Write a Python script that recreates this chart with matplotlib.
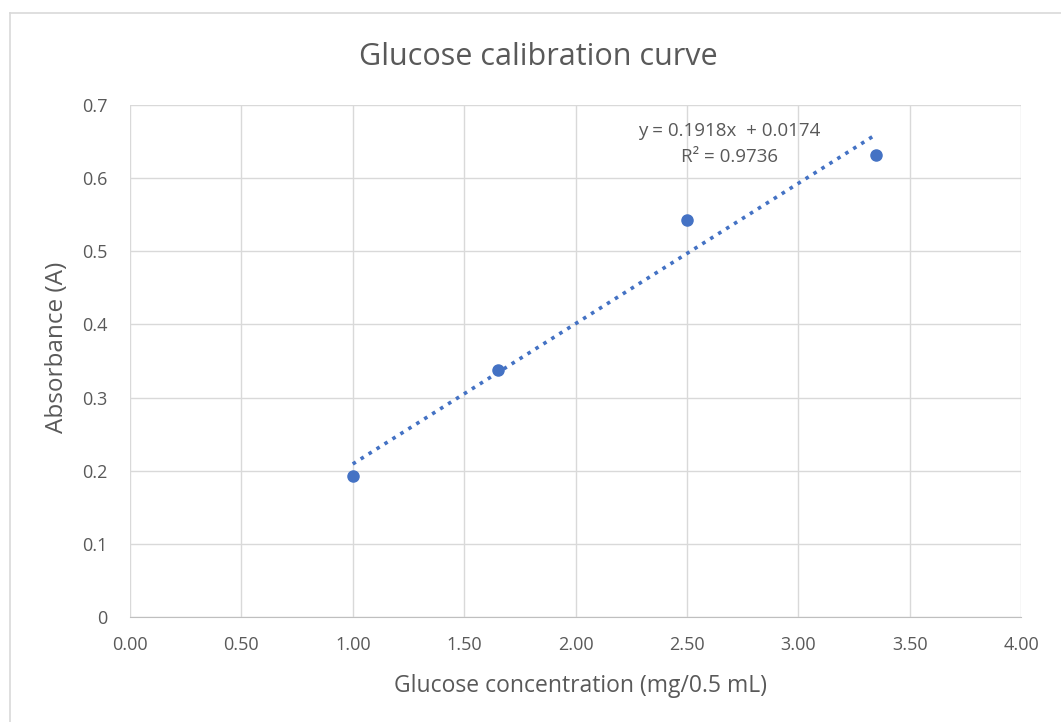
import matplotlib
matplotlib.use("Agg")
import matplotlib.pyplot as plt
from matplotlib.lines import Line2D

# Data
concentration = [1.00, 1.65, 2.50, 3.35]
absorbance = [0.193, 0.338, 0.543, 0.632]
slope = 0.1918
intercept = 0.0174
r_squared = 0.9736
x_ticks = [0.0, 0.5, 1.0, 1.5, 2.0, 2.5, 3.0, 3.5, 4.0]
y_ticks = [0, 0.1, 0.2, 0.3, 0.4, 0.5, 0.6, 0.7]

plt.rcParams['font.family'] = ['Open Sans', 'DejaVu Sans']
text_color = '#595959'
grid_color = '#d9d9d9'
point_color = '#4472c4'

W, H = 1061, 722
fig = plt.figure(figsize=(W / 100, H / 100), dpi=100)
ax = fig.add_axes([130 / W, 1 - 617 / H, (1021 - 130) / W, (617 - 105) / H])

# Outer chart border (left and top visible)
fig.add_artist(Line2D([10 / W, 10 / W], [0, 1 - 13 / H], transform=fig.transFigure,
                      color='#d9d9d9', lw=1.2))
fig.add_artist(Line2D([10 / W, 1], [1 - 13 / H, 1 - 13 / H], transform=fig.transFigure,
                      color='#d9d9d9', lw=1.2))

ax.set_xlim(0, 4)
ax.set_ylim(0, 0.7)
ax.set_xticks(x_ticks)
ax.set_yticks(y_ticks)
ax.set_xticklabels([f"{v:.2f}" for v in x_ticks])
ax.set_yticklabels(["0"] + [f"{v:.1f}" for v in y_ticks[1:]])
ax.grid(True, color=grid_color, lw=1)
ax.set_axisbelow(True)
for side in ['top', 'right', 'left']:
    ax.spines[side].set_visible(False)
ax.spines['bottom'].set_color('#bfbfbf')
ax.tick_params(length=0, colors=text_color, labelsize=13)
ax.tick_params(axis='x', pad=14)
ax.tick_params(axis='y', pad=16)

# Trendline
x0, x1 = concentration[0], concentration[-1]
ax.plot([x0, x1], [slope * x0 + intercept, slope * x1 + intercept],
        linestyle=(0, (1, 1.6)), color=point_color, lw=2.6, zorder=2)

ax.scatter(concentration, absorbance, s=64, color=point_color, zorder=3)

ax.text(2.69, 0.6465, f"y = {slope}x  + {intercept}\nR² = {r_squared}", ha='center', va='center',
        fontsize=13.5, color=text_color, linespacing=1.55)

fig.text(538 / W, 1 - 57 / H, "Glucose calibration curve", ha='center', va='center',
         fontsize=22, color=text_color)
ax.set_xlabel("Glucose concentration (mg/0.5 mL)", fontsize=16.5, color=text_color)
ax.xaxis.set_label_coords((580 - 130) / 891, -(686 - 617) / 512)
ax.xaxis.label.set_va('center')
ax.set_ylabel("Absorbance (A)", fontsize=17.5, color=text_color)
ax.yaxis.set_label_coords((57 - 130) / 891, (617 - 347) / 512)
ax.yaxis.label.set_va('center')

fig.savefig("out.png", dpi=100)
